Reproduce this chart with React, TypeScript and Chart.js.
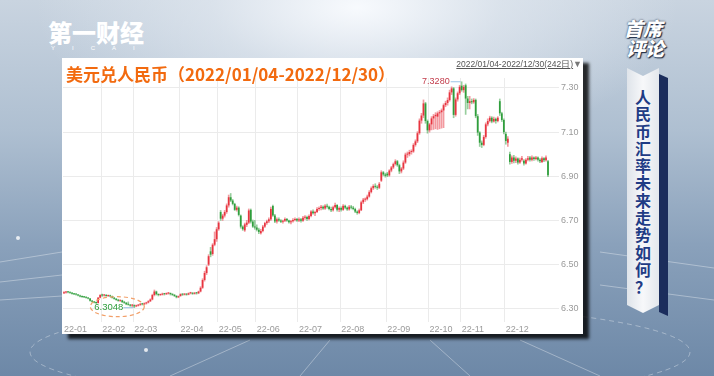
import { useEffect, useRef } from 'react';
import { Chart, registerables } from 'chart.js';
Chart.register(...registerables);

// ---- axis / tick data ----
const monthLabels = ['22-01', '22-02', '22-03', '22-04', '22-05', '22-06', '22-07', '22-08', '22-09', '22-10', '22-11', '22-12'];
const monthStarts = [0, 19, 35, 58, 77, 96, 117, 138, 161, 182, 198, 220];
const yTicks = [6.3, 6.5, 6.7, 6.9, 7.1, 7.3];

// ---- daily candles [open, high, low, close] ----
const jan = [
  [6.370, 6.378, 6.368, 6.374], [6.374, 6.379, 6.371, 6.376], [6.376, 6.378, 6.372, 6.375], [6.375, 6.376, 6.369, 6.372],
  [6.372, 6.374, 6.366, 6.368], [6.368, 6.370, 6.364, 6.366], [6.366, 6.368, 6.362, 6.364], [6.364, 6.365, 6.358, 6.360],
  [6.360, 6.362, 6.354, 6.356], [6.356, 6.358, 6.351, 6.353], [6.353, 6.356, 6.350, 6.352], [6.352, 6.354, 6.348, 6.350],
  [6.350, 6.351, 6.344, 6.346], [6.346, 6.347, 6.334, 6.336], [6.336, 6.338, 6.330, 6.332], [6.332, 6.334, 6.326, 6.328],
  [6.328, 6.331, 6.323, 6.326], [6.326, 6.352, 6.325, 6.350], [6.350, 6.364, 6.349, 6.362],
];
const feb = [
  [6.362, 6.366, 6.356, 6.360], [6.360, 6.365, 6.357, 6.363], [6.363, 6.364, 6.356, 6.358], [6.358, 6.362, 6.355, 6.360],
  [6.360, 6.362, 6.354, 6.356], [6.356, 6.358, 6.348, 6.350], [6.350, 6.352, 6.343, 6.345], [6.345, 6.347, 6.338, 6.340],
  [6.340, 6.343, 6.334, 6.336], [6.336, 6.340, 6.333, 6.338], [6.338, 6.339, 6.328, 6.330], [6.330, 6.334, 6.324, 6.327],
  [6.327, 6.329, 6.318, 6.320], [6.320, 6.331, 6.316, 6.318], [6.318, 6.320, 6.311, 6.314], [6.314, 6.320, 6.308, 6.316],
];
const mar = [
  [6.316, 6.318, 6.3048, 6.311], [6.311, 6.317, 6.309, 6.314], [6.314, 6.320, 6.312, 6.318], [6.318, 6.324, 6.315, 6.322],
  [6.322, 6.325, 6.317, 6.320], [6.320, 6.327, 6.318, 6.324], [6.324, 6.330, 6.321, 6.328], [6.328, 6.337, 6.326, 6.334],
  [6.334, 6.345, 6.332, 6.342], [6.342, 6.366, 6.340, 6.362], [6.362, 6.385, 6.358, 6.378], [6.378, 6.380, 6.362, 6.366],
  [6.366, 6.368, 6.358, 6.362], [6.362, 6.367, 6.360, 6.364], [6.364, 6.371, 6.362, 6.368], [6.368, 6.370, 6.362, 6.366],
  [6.366, 6.372, 6.364, 6.369], [6.369, 6.374, 6.366, 6.371], [6.371, 6.372, 6.362, 6.366], [6.366, 6.368, 6.360, 6.363],
  [6.363, 6.365, 6.355, 6.358], [6.358, 6.360, 6.349, 6.352], [6.352, 6.358, 6.350, 6.356],
];
const apr = [
  [6.358, 6.368, 6.356, 6.366], [6.366, 6.368, 6.360, 6.364], [6.364, 6.369, 6.362, 6.366], [6.366, 6.368, 6.361, 6.364],
  [6.364, 6.372, 6.363, 6.370], [6.370, 6.375, 6.367, 6.372], [6.372, 6.373, 6.365, 6.368], [6.368, 6.374, 6.366, 6.372],
  [6.372, 6.374, 6.366, 6.370], [6.370, 6.380, 6.368, 6.378], [6.378, 6.400, 6.376, 6.395], [6.395, 6.436, 6.392, 6.430],
  [6.430, 6.470, 6.425, 6.462], [6.462, 6.495, 6.455, 6.488], [6.500, 6.545, 6.495, 6.538], [6.560, 6.578, 6.535, 6.545],
  [6.548, 6.595, 6.542, 6.590], [6.590, 6.648, 6.585, 6.615], [6.615, 6.668, 6.605, 6.660],
];
const may = [
  [6.660, 6.695, 6.655, 6.690], [6.738, 6.745, 6.700, 6.708], [6.708, 6.728, 6.700, 6.722], [6.722, 6.745, 6.715, 6.738],
  [6.738, 6.775, 6.732, 6.768], [6.768, 6.815, 6.760, 6.805], [6.805, 6.822, 6.785, 6.790], [6.790, 6.795, 6.770, 6.775],
  [6.775, 6.778, 6.745, 6.748], [6.748, 6.765, 6.742, 6.758], [6.758, 6.762, 6.720, 6.725], [6.722, 6.725, 6.665, 6.672],
  [6.672, 6.676, 6.655, 6.660], [6.655, 6.688, 6.650, 6.682], [6.680, 6.700, 6.672, 6.690], [6.690, 6.752, 6.685, 6.745],
  [6.748, 6.752, 6.688, 6.695], [6.695, 6.702, 6.668, 6.672], [6.672, 6.700, 6.660, 6.668],
];
const jun = [
  [6.668, 6.680, 6.652, 6.658], [6.658, 6.665, 6.640, 6.648], [6.642, 6.660, 6.638, 6.652], [6.652, 6.678, 6.648, 6.672],
  [6.672, 6.692, 6.668, 6.688], [6.688, 6.702, 6.682, 6.696], [6.696, 6.712, 6.690, 6.705], [6.705, 6.760, 6.700, 6.752],
  [6.765, 6.770, 6.718, 6.722], [6.722, 6.728, 6.690, 6.695], [6.695, 6.712, 6.688, 6.705], [6.705, 6.712, 6.695, 6.700],
  [6.700, 6.704, 6.690, 6.694], [6.694, 6.702, 6.688, 6.698], [6.698, 6.712, 6.694, 6.706], [6.706, 6.710, 6.695, 6.700],
  [6.700, 6.702, 6.688, 6.692], [6.692, 6.700, 6.684, 6.696], [6.696, 6.708, 6.692, 6.702], [6.702, 6.712, 6.698, 6.706],
  [6.706, 6.710, 6.696, 6.700],
];
const jul = [
  [6.700, 6.712, 6.694, 6.705], [6.705, 6.710, 6.692, 6.698], [6.698, 6.718, 6.695, 6.712], [6.712, 6.722, 6.705, 6.716],
  [6.716, 6.720, 6.700, 6.706], [6.706, 6.725, 6.702, 6.720], [6.720, 6.745, 6.716, 6.740], [6.740, 6.748, 6.728, 6.732],
  [6.732, 6.742, 6.722, 6.738], [6.738, 6.758, 6.735, 6.752], [6.752, 6.762, 6.745, 6.756], [6.756, 6.768, 6.748, 6.762],
  [6.762, 6.766, 6.750, 6.754], [6.754, 6.772, 6.750, 6.766], [6.766, 6.774, 6.756, 6.762], [6.762, 6.765, 6.748, 6.752],
  [6.752, 6.760, 6.740, 6.746], [6.746, 6.765, 6.742, 6.760], [6.760, 6.778, 6.756, 6.770], [6.770, 6.772, 6.742, 6.748],
  [6.748, 6.762, 6.740, 6.756],
];
const aug = [
  [6.756, 6.762, 6.742, 6.748], [6.748, 6.772, 6.745, 6.766], [6.766, 6.770, 6.752, 6.758], [6.758, 6.762, 6.745, 6.750],
  [6.750, 6.768, 6.746, 6.762], [6.762, 6.768, 6.752, 6.758], [6.758, 6.764, 6.748, 6.752], [6.752, 6.756, 6.735, 6.740],
  [6.740, 6.744, 6.728, 6.734], [6.734, 6.752, 6.730, 6.746], [6.746, 6.788, 6.744, 6.782], [6.782, 6.800, 6.776, 6.794],
  [6.794, 6.802, 6.786, 6.796], [6.796, 6.815, 6.792, 6.808], [6.808, 6.835, 6.805, 6.828], [6.828, 6.852, 6.824, 6.846],
  [6.846, 6.862, 6.840, 6.856], [6.856, 6.866, 6.846, 6.852], [6.852, 6.858, 6.840, 6.848], [6.848, 6.872, 6.844, 6.866],
  [6.880, 6.925, 6.876, 6.918], [6.918, 6.922, 6.902, 6.908], [6.908, 6.914, 6.896, 6.902],
];
const sep = [
  [6.912, 6.918, 6.898, 6.904], [6.904, 6.930, 6.900, 6.926], [6.926, 6.945, 6.920, 6.940], [6.940, 6.960, 6.935, 6.955],
  [6.955, 6.975, 6.950, 6.968], [6.968, 6.972, 6.945, 6.950], [6.950, 6.955, 6.912, 6.922], [6.922, 6.940, 6.915, 6.935],
  [6.935, 6.970, 6.930, 6.962], [6.962, 7.005, 6.958, 6.998], [6.998, 7.010, 6.985, 7.000], [7.000, 7.018, 6.992, 7.010],
  [7.010, 7.020, 7.000, 7.012], [7.012, 7.048, 7.008, 7.042], [7.042, 7.065, 7.036, 7.058], [7.058, 7.102, 7.052, 7.095],
  [7.095, 7.160, 7.090, 7.152], [7.152, 7.185, 7.140, 7.175], [7.175, 7.2458, 7.165, 7.230], [7.230, 7.235, 7.140, 7.150],
  [7.150, 7.155, 7.095, 7.108],
];
const oct = [
  [7.108, 7.140, 7.100, 7.135], [7.135, 7.170, 7.110, 7.162], [7.162, 7.180, 7.112, 7.172], [7.172, 7.188, 7.115, 7.178],
  [7.170, 7.192, 7.112, 7.185], [7.185, 7.198, 7.115, 7.190], [7.190, 7.205, 7.118, 7.198], [7.198, 7.228, 7.120, 7.222],
  [7.222, 7.240, 7.215, 7.232], [7.232, 7.255, 7.222, 7.245], [7.245, 7.290, 7.240, 7.280], [7.280, 7.305, 7.270, 7.298],
  [7.298, 7.302, 7.165, 7.178], [7.178, 7.255, 7.172, 7.248], [7.248, 7.282, 7.240, 7.276], [7.276, 7.312, 7.270, 7.305],
];
const nov = [
  [7.310, 7.328, 7.285, 7.290], [7.290, 7.312, 7.280, 7.305], [7.312, 7.318, 7.180, 7.252], [7.252, 7.262, 7.205, 7.232],
  [7.232, 7.262, 7.205, 7.240], [7.240, 7.250, 7.228, 7.235], [7.235, 7.252, 7.230, 7.246], [7.246, 7.250, 7.165, 7.172],
  [7.172, 7.180, 7.085, 7.098], [7.098, 7.102, 7.035, 7.052], [7.052, 7.060, 7.030, 7.042], [7.042, 7.085, 7.038, 7.078],
  [7.078, 7.142, 7.072, 7.135], [7.135, 7.160, 7.128, 7.150], [7.150, 7.172, 7.145, 7.165], [7.165, 7.170, 7.142, 7.148],
  [7.148, 7.168, 7.145, 7.160], [7.160, 7.164, 7.140, 7.150], [7.150, 7.170, 7.146, 7.165], [7.240, 7.250, 7.175, 7.185],
  [7.185, 7.190, 7.148, 7.155], [7.155, 7.160, 7.092, 7.100],
];
const dec = [
  [7.092, 7.100, 7.045, 7.060], [7.052, 7.080, 7.035, 7.070], [7.000, 7.010, 6.955, 6.965], [6.965, 6.992, 6.958, 6.985],
  [6.985, 6.995, 6.960, 6.970], [6.970, 6.988, 6.962, 6.980], [6.980, 6.984, 6.955, 6.962], [6.962, 6.982, 6.958, 6.975],
  [6.975, 6.990, 6.968, 6.982], [6.970, 6.975, 6.950, 6.958], [6.958, 6.980, 6.955, 6.975], [6.975, 6.990, 6.970, 6.982],
  [6.985, 6.990, 6.968, 6.975], [6.975, 6.992, 6.970, 6.985], [6.985, 6.988, 6.972, 6.978], [6.978, 6.990, 6.974, 6.985],
  [6.985, 6.988, 6.968, 6.975], [6.975, 6.980, 6.962, 6.968], [6.965, 6.988, 6.962, 6.982], [6.982, 6.985, 6.966, 6.972],
  [6.972, 6.992, 6.968, 6.985], [6.968, 6.972, 6.898, 6.905],
];

const UP = '#e8343f';
const DOWN = '#2f9e3c';
const UP_WICK = 'rgba(232,52,63,0.5)';
const DOWN_WICK = 'rgba(47,158,60,0.5)';
const NUM_FONT = '"Liberation Sans", Arial, sans-serif';
const CJK_FONT = '"Noto Sans CJK SC", "Noto Sans", sans-serif';

const bannerText = '人民币汇率未来走势如何？';

export default function App() {
  const ref = useRef<HTMLCanvasElement>(null);

  useEffect(() => {
    const candles = [jan, feb, mar, apr, may, jun, jul, aug, sep, oct, nov, dec].flat();
    const labels = candles.map((_, i) => String(i));
    const isUp = candles.map((c) => c[3] >= c[0]);

    const annotate = {
      id: 'annotate',
      afterDatasetsDraw(chart: any) {
        const { ctx, scales } = chart;
        const x = scales.x;
        const y = scales.y;
        let hi = 0;
        let lo = 0;
        candles.forEach((c, i) => {
          if (c[1] > candles[hi][1]) hi = i;
          if (c[2] < candles[lo][2]) lo = i;
        });
        ctx.save();
        const hx = x.getPixelForValue(hi);
        const hy = y.getPixelForValue(candles[hi][1]);
        ctx.strokeStyle = '#9cc4e6';
        ctx.lineWidth = 1;
        ctx.beginPath();
        ctx.moveTo(hx - 11, hy);
        ctx.lineTo(hx - 1, hy);
        ctx.stroke();
        ctx.font = `9px ${NUM_FONT}`;
        ctx.fillStyle = '#c23b4a';
        ctx.textAlign = 'right';
        ctx.textBaseline = 'middle';
        ctx.fillText(candles[hi][1].toFixed(4), hx - 12, hy);
        const lx = x.getPixelForValue(lo);
        const ly = y.getPixelForValue(candles[lo][2]);
        ctx.beginPath();
        ctx.moveTo(lx - 11, ly);
        ctx.lineTo(lx - 1, ly);
        ctx.stroke();
        ctx.fillStyle = '#2f9e3c';
        ctx.font = `9.5px ${NUM_FONT}`;
        ctx.fillText(candles[lo][2].toFixed(4), lx - 11, ly);
        ctx.strokeStyle = '#f2a06a';
        ctx.lineWidth = 1.2;
        ctx.setLineDash([4, 3]);
        ctx.beginPath();
        ctx.ellipse(lx - 17, ly - 1, 27, 10, 0, 0, Math.PI * 2);
        ctx.stroke();
        ctx.restore();
      },
    };

    const chart = new Chart(ref.current as HTMLCanvasElement, {
      type: 'bar',
      data: {
        labels,
        datasets: [
          {
            data: candles.map((c) => [c[0], c[3]]),
            backgroundColor: isUp.map((u) => (u ? UP : DOWN)),
            barPercentage: 0.85,
            categoryPercentage: 1,
            minBarLength: 1,
            grouped: false,
            order: 1,
          } as any,
          {
            data: candles.map((c) => [c[2], c[1]]),
            backgroundColor: isUp.map((u) => (u ? UP_WICK : DOWN_WICK)),
            barThickness: 1,
            grouped: false,
            order: 2,
          } as any,
        ],
      },
      options: {
        animation: false,
        responsive: false,
        devicePixelRatio: 1,
        events: [],
        layout: { padding: { top: 20, left: 0, right: 0, bottom: 0 } },
        plugins: { legend: { display: false }, tooltip: { enabled: false }, title: { display: false } },
        scales: {
          x: {
            type: 'category',
            offset: true,
            border: { display: false },
            grid: {
              offset: true,
              drawTicks: false,
              color: (ctx: any) => (ctx.index > 0 && monthStarts.includes(ctx.index) ? '#ebebeb' : 'rgba(0,0,0,0)'),
            },
            ticks: {
              autoSkip: false,
              maxRotation: 0,
              minRotation: 0,
              align: 'start',
              padding: 2,
              color: '#9a9a9a',
              font: { size: 9, family: NUM_FONT },
              callback: (_v: any, i: number) => {
                const k = monthStarts.indexOf(i);
                return k >= 0 ? monthLabels[k] : '';
              },
            },
            afterFit: (s: any) => {
              s.height = 12;
            },
          },
          y: {
            position: 'right',
            min: 6.24,
            max: 7.345,
            border: { display: false },
            grid: { color: '#ebebeb', tickLength: 10, drawTicks: true },
            afterBuildTicks: (s: any) => {
              s.ticks = yTicks.map((v) => ({ value: v }));
            },
            ticks: {
              padding: 2,
              color: '#9a9a9a',
              font: { size: 9, family: NUM_FONT },
              callback: (v: any) => Number(v).toFixed(2),
            },
            afterFit: (s: any) => {
              s.width = 34;
            },
          },
        },
      } as any,
      plugins: [annotate],
    });
    return () => chart.destroy();
  }, []);

  return (
    <div
      style={{
        position: 'fixed',
        left: 0,
        top: 0,
        width: 714,
        height: 376,
        overflow: 'hidden',
        background:
          'radial-gradient(ellipse 45% 40% at 50% 2%, rgba(250,252,255,0.95) 0%, rgba(230,236,243,0.6) 45%, rgba(230,236,243,0) 100%), linear-gradient(180deg, #c9d4e0 0%, #aebfd1 35%, #8aa1bb 65%, #6d88a7 100%)',
      }}
    >
      <svg width={714} height={376} style={{ position: 'absolute', left: 0, top: 0 }}>
        <g stroke="rgba(255,255,255,0.35)" fill="none" strokeWidth={1}>
          <ellipse cx={360} cy={352} rx={330} ry={48} strokeDasharray="5 4" />
          <line x1={0} y1={262} x2={62} y2={252} />
          <line x1={0} y1={282} x2={62} y2={275} />
          <line x1={0} y1={300} x2={62} y2={296} />
          <line x1={600} y1={252} x2={714} y2={268} />
          <line x1={600} y1={285} x2={714} y2={300} />
          <line x1={250} y1={340} x2={170} y2={376} />
          <line x1={330} y1={340} x2={300} y2={376} />
          <line x1={430} y1={340} x2={470} y2={376} />
          <line x1={520} y1={340} x2={600} y2={376} />
        </g>
        <circle cx={18} cy={238} r={2} fill="rgba(255,255,255,0.8)" />
        <circle cx={146} cy={350} r={2} fill="rgba(255,255,255,0.8)" />
      </svg>

      <div
        style={{
          position: 'absolute',
          left: 48,
          top: 18,
          color: '#ffffff',
          fontFamily: CJK_FONT,
          fontWeight: 900,
          fontSize: 24,
          lineHeight: '28px',
          whiteSpace: 'nowrap',
        }}
      >
        第一财经
      </div>
      <div
        style={{
          position: 'absolute',
          left: 51,
          top: 45,
          color: '#ffffff',
          fontFamily: NUM_FONT,
          fontSize: 6,
          letterSpacing: 17,
          whiteSpace: 'nowrap',
        }}
      >
        YICAI
      </div>

      <div
        style={{
          position: 'absolute',
          left: 624,
          top: 18,
          color: '#ffffff',
          fontFamily: CJK_FONT,
          fontWeight: 900,
          fontStyle: 'italic',
          fontSize: 19,
          lineHeight: '20px',
          textShadow: '0 0 2px #1b2a44, 1px 1px 1px #1b2a44',
          whiteSpace: 'nowrap',
        }}
      >
        <div>首席</div>
        <div style={{ marginLeft: 2 }}>评论</div>
      </div>

      <svg width={714} height={376} style={{ position: 'absolute', left: 0, top: 0 }}>
        <defs>
          <linearGradient id="bn" x1="0" y1="0" x2="1" y2="0">
            <stop offset="0" stopColor="#dfe4ea" />
            <stop offset="0.5" stopColor="#f7f8fa" />
            <stop offset="1" stopColor="#e3e7ec" />
          </linearGradient>
        </defs>
        <polygon points="659,74 668,78 668,316 659,312" fill="#1b2d5c" />
        <polygon points="627,68 643,76 659,68 659,305 643,313 627,305" fill="url(#bn)" />
      </svg>
      <div
        style={{
          position: 'absolute',
          left: 633,
          top: 88,
          width: 20,
          display: 'flex',
          flexDirection: 'column',
          alignItems: 'center',
          color: '#1f3c85',
          fontFamily: CJK_FONT,
          fontWeight: 700,
          fontSize: 16,
          lineHeight: '17.3px',
        }}
      >
        {bannerText.split('').map((ch, i) => (
          <div key={i}>{ch}</div>
        ))}
      </div>

      <div
        style={{
          position: 'absolute',
          left: 62,
          top: 58,
          width: 521,
          height: 276,
          background: '#ffffff',
          boxShadow: '6px 5px 3px rgba(0,0,0,0.8)',
        }}
      >
        <canvas ref={ref} width={521} height={276} style={{ display: 'block', width: 521, height: 276 }} />
        <div
          style={{
            position: 'absolute',
            left: 4,
            top: 5,
            color: '#f26a0f',
            fontFamily: CJK_FONT,
            fontWeight: 700,
            fontSize: 17,
            lineHeight: '22px',
            whiteSpace: 'nowrap',
          }}
        >
          美元兑人民币（2022/01/04-2022/12/30）
        </div>
        <div
          style={{
            position: 'absolute',
            right: 1,
            top: 1,
            color: '#555555',
            fontFamily: NUM_FONT,
            fontSize: 8.5,
            lineHeight: '11px',
            whiteSpace: 'nowrap',
          }}
        >
          <span style={{ textDecoration: 'underline' }}>2022/01/04-2022/12/30(242日)</span>
          <span style={{ color: '#777', fontSize: 9 }}>▼</span>
        </div>
      </div>
    </div>
  );
}
